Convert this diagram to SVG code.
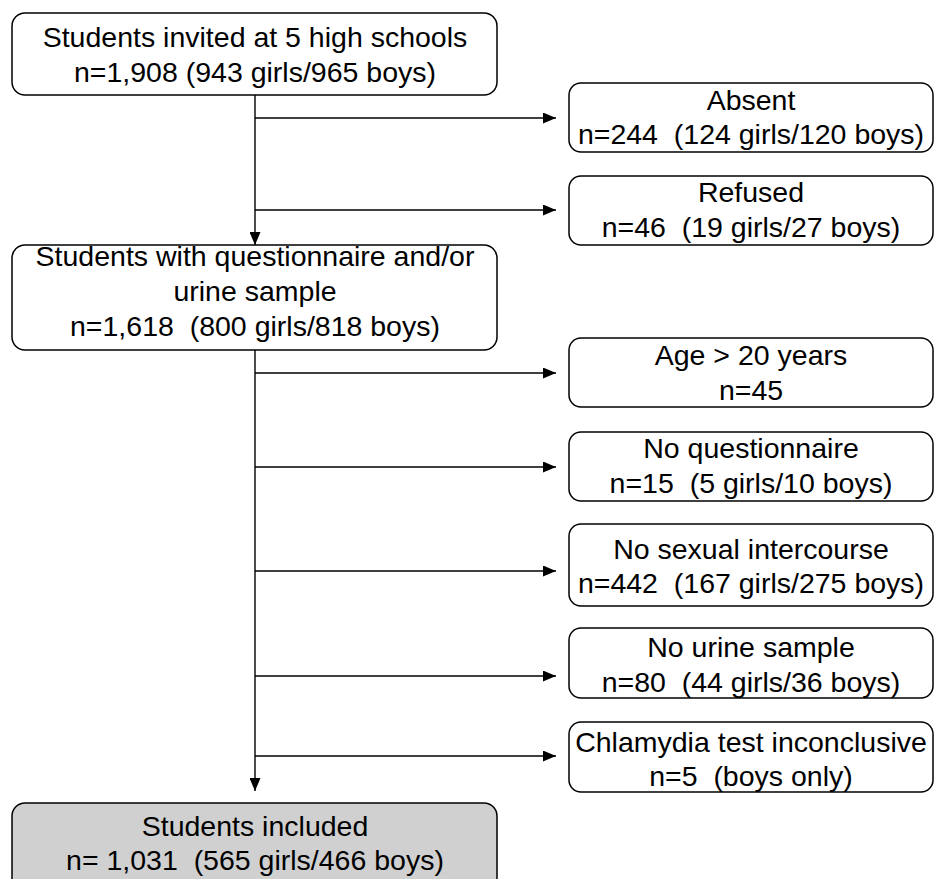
<svg xmlns="http://www.w3.org/2000/svg" width="934" height="879" viewBox="0 0 934 879">
<defs>
<marker id="ah" markerWidth="13" markerHeight="11" refX="13" refY="5.5" orient="auto" markerUnits="userSpaceOnUse">
<path d="M0,0 L13,5.5 L0,11 Z" fill="#000"/>
</marker>
<style>
.box{fill:#fff;stroke:#000;stroke-width:1.5}
.inc{fill:#d0d0d0;stroke:#000;stroke-width:1.5}
text{font-family:"Liberation Sans",Arial,sans-serif;font-size:28.5px;fill:#000;text-anchor:middle}
.ln{stroke:#000;stroke-width:1.4;fill:none}
</style>
</defs>
<rect width="934" height="879" fill="#fff"/>
<g id="connectors">
<line class="ln" x1="255" y1="95" x2="255" y2="245" marker-end="url(#ah)"/>
<line class="ln" x1="255" y1="118" x2="556" y2="118" marker-end="url(#ah)"/>
<line class="ln" x1="255" y1="210" x2="556" y2="210" marker-end="url(#ah)"/>
<line class="ln" x1="255" y1="350" x2="255" y2="791" marker-end="url(#ah)"/>
<line class="ln" x1="255" y1="373" x2="556" y2="373" marker-end="url(#ah)"/>
<line class="ln" x1="255" y1="467" x2="556" y2="467" marker-end="url(#ah)"/>
<line class="ln" x1="255" y1="571" x2="556" y2="571" marker-end="url(#ah)"/>
<line class="ln" x1="255" y1="676" x2="556" y2="676" marker-end="url(#ah)"/>
<line class="ln" x1="255" y1="756" x2="556" y2="756" marker-end="url(#ah)"/>
</g>
<g id="invited">
<rect class="box" x="12" y="13" width="485" height="82" rx="13"/>
<text x="255" y="47">Students invited at 5 high schools</text>
<text x="255" y="82">n=1,908 (943 girls/965 boys)</text>
</g>
<g id="absent">
<rect class="box" x="569" y="83" width="364" height="69" rx="12"/>
<text x="751" y="110">Absent</text>
<text x="751" y="144" xml:space="preserve">n=244  (124 girls/120 boys)</text>
</g>
<g id="refused">
<rect class="box" x="569" y="176" width="364" height="69" rx="12"/>
<text x="751" y="202">Refused</text>
<text x="751" y="237" xml:space="preserve">n=46  (19 girls/27 boys)</text>
</g>
<g id="questionnaire">
<rect class="box" x="12" y="245" width="485" height="105" rx="13"/>
<text x="255" y="266">Students with questionnaire and/or</text>
<text x="255" y="301">urine sample</text>
<text x="255" y="336" xml:space="preserve">n=1,618  (800 girls/818 boys)</text>
</g>
<g id="age">
<rect class="box" x="569" y="338" width="364" height="69" rx="12"/>
<text x="751" y="365">Age &gt; 20 years</text>
<text x="751" y="400">n=45</text>
</g>
<g id="noquest">
<rect class="box" x="569" y="432" width="364" height="69" rx="12"/>
<text x="751" y="458">No questionnaire</text>
<text x="751" y="493" xml:space="preserve">n=15  (5 girls/10 boys)</text>
</g>
<g id="nosex">
<rect class="box" x="569" y="524" width="364" height="82" rx="12"/>
<text x="751" y="559">No sexual intercourse</text>
<text x="751" y="593" xml:space="preserve">n=442  (167 girls/275 boys)</text>
</g>
<g id="nourine">
<rect class="box" x="569" y="628" width="364" height="70" rx="12"/>
<text x="751" y="657">No urine sample</text>
<text x="751" y="692" xml:space="preserve">n=80  (44 girls/36 boys)</text>
</g>
<g id="chlamydia">
<rect class="box" x="569" y="722" width="364" height="70" rx="12"/>
<text x="751" y="752">Chlamydia test inconclusive</text>
<text x="751" y="786" xml:space="preserve">n=5  (boys only)</text>
</g>
<g id="included">
<rect class="inc" x="12" y="803" width="485" height="90" rx="13"/>
<text x="255" y="836">Students included</text>
<text x="255" y="870" xml:space="preserve">n= 1,031  (565 girls/466 boys)</text>
</g>
</svg>
